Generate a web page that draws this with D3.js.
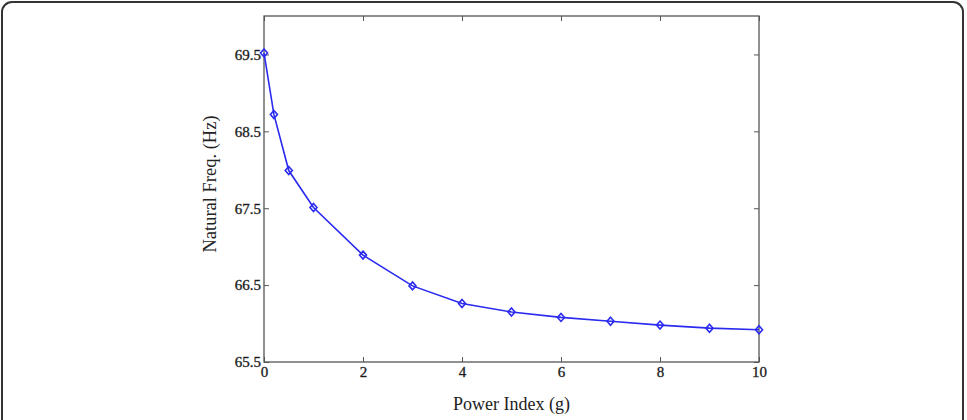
<!DOCTYPE html>
<html>
<head>
<meta charset="utf-8">
<script src="https://cdn.jsdelivr.net/npm/d3@7"></script>
<style>
  body { margin: 0; background: #fff; }
</style>
</head>
<body>
<div id="chart"></div>
<script>
// data
var powerIndex = [0, 0.2, 0.5, 1, 2, 3, 4, 5, 6, 7, 8, 9, 10];
var naturalFreq = [69.52, 68.72, 67.99, 67.51, 66.89, 66.49, 66.26, 66.15, 66.08, 66.03, 65.98, 65.94, 65.92];
var xTicks = [0, 2, 4, 6, 8, 10];
var yTicks = [65.5, 66.5, 67.5, 68.5, 69.5];

var serif = "'Liberation Serif', 'DejaVu Serif', serif";

var W = 967, H = 420;
var margin = {top: 16, right: 208, bottom: 58, left: 264},
    width = W - margin.left - margin.right,
    height = H - margin.top - margin.bottom;

var svg = d3.select("#chart").append("svg")
    .attr("width", W)
    .attr("height", H);

// outer frame (bottom edge runs off the picture)
svg.append("rect")
    .attr("x", 2).attr("y", 2)
    .attr("width", 961).attr("height", 440)
    .attr("rx", 10)
    .attr("fill", "none")
    .attr("stroke", "#333")
    .attr("stroke-width", 2);

var g = svg.append("g")
    .attr("transform", "translate(" + margin.left + "," + margin.top + ")");

var x = d3.scaleLinear().domain([0, 10]).range([0, width]);
var y = d3.scaleLinear().domain([65.5, 70]).range([height, 0]);

// axes with inward ticks on all four sides
var tickStyle = function(sel) {
    sel.attr("font-family", serif).attr("font-size", 15);
    sel.select(".domain").remove();
    sel.selectAll("line").attr("stroke", "#555");
    sel.selectAll("text").attr("fill", "#111").style("font-weight", "normal")
        .attr("stroke", "#333").attr("stroke-width", 0.35);
};

g.append("g")
    .attr("transform", "translate(0," + height + ")")
    .call(d3.axisBottom(x).tickValues(xTicks).tickSize(-5).tickPadding(4))
    .call(tickStyle);
g.append("g")
    .call(d3.axisTop(x).tickValues(xTicks).tickSize(-5).tickFormat(""))
    .call(tickStyle);
g.append("g")
    .call(d3.axisLeft(y).tickValues(yTicks).tickSize(-5).tickPadding(3).tickFormat(d3.format(".1f")))
    .call(tickStyle);
g.append("g")
    .attr("transform", "translate(" + width + ",0)")
    .call(d3.axisRight(y).tickValues(yTicks).tickSize(-5).tickFormat(""))
    .call(tickStyle);

g.append("rect")
    .attr("width", width).attr("height", height)
    .attr("fill", "none")
    .attr("stroke", "#555")
    .attr("stroke-width", 1.3);

var pts = powerIndex.map(function(d, i) { return {g: d, f: naturalFreq[i]}; });

var line = d3.line()
    .x(function(d) { return x(d.g); })
    .y(function(d) { return y(d.f); });

g.append("path")
    .datum(pts)
    .attr("d", line)
    .attr("fill", "none")
    .attr("stroke", "#2a2af0")
    .attr("stroke-width", 1.6);

// diamond markers
g.selectAll(".mk")
    .data(pts)
    .enter()
    .append("path")
    .attr("class", "mk")
    .attr("transform", function(d) { return "translate(" + x(d.g) + "," + y(d.f) + ")"; })
    .attr("d", "M0,-4L3.5,0L0,4L-3.5,0Z")
    .attr("fill", "none")
    .attr("stroke", "#2a2af0")
    .attr("stroke-width", 1.6);

// axis labels
svg.append("text")
    .attr("x", margin.left + width / 2)
    .attr("y", 410)
    .attr("text-anchor", "middle")
    .attr("font-family", serif)
    .attr("font-size", 18)
    .attr("fill", "#222")
    .text("Power Index (g)");

svg.append("text")
    .attr("transform", "translate(216,184) rotate(-90)")
    .attr("text-anchor", "middle")
    .attr("font-family", serif)
    .attr("font-size", 18.5)
    .attr("fill", "#222")
    .text("Natural Freq. (Hz)");
</script>
</body>
</html>
